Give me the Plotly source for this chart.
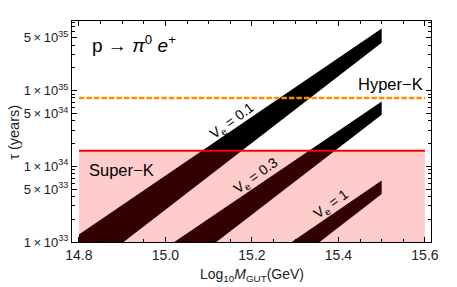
import plotly.graph_objects as go

# ---- data ----
M_ends = [14.8, 15.5]                     # log10 M_GUT at band ends
ve01_upper = [1.26e33, 6.6e35]
ve01_lower = [3.5e32, 4.3e35]
ve03_upper = [1.4e32, 7.2e34]
ve03_lower = [4.0e31, 4.8e34]
ve1_upper = [1.2e31, 6.5e33]
ve1_lower = [3.5e30, 4.3e33]
band_labels = ["V<sub>e</sub> = 0.1", "V<sub>e</sub> = 0.3", "V<sub>e</sub> = 1"]
label_pos_M = [15.155, 15.21, 15.385]
label_pos_logtau = [34.60, 33.87, 33.50]

x_span = [14.8, 15.6]
superk_limit = 1.6e34
hyperk_limit = 8.0e34
y_floor = 1e32

x_tickvals = [14.8, 15.0, 15.2, 15.4, 15.6]
x_ticktext = ["14.8", "15.0", "15.2", "15.4", "15.6"]
y_tickvals = [1e33, 5e33, 1e34, 5e34, 1e35, 5e35]
y_ticktext = ["1\u2009×\u200910<sup>33</sup>", "5\u2009×\u200910<sup>33</sup>",
              "1\u2009×\u200910<sup>34</sup>", "5\u2009×\u200910<sup>34</sup>",
              "1\u2009×\u200910<sup>35</sup>", "5\u2009×\u200910<sup>35</sup>"]

FONT = "Liberation Sans, Arial, sans-serif"

fig = go.Figure()

for up, lo in [(ve01_upper, ve01_lower), (ve03_upper, ve03_lower), (ve1_upper, ve1_lower)]:
    fig.add_trace(go.Scatter(
        x=M_ends + M_ends[::-1], y=up + lo[::-1],
        fill="toself", fillcolor="black", mode="lines",
        line=dict(width=0, color="black"), hoverinfo="skip", showlegend=False))

# Super-K excluded region (translucent red over the bands)
fig.add_trace(go.Scatter(
    x=[x_span[0], x_span[1], x_span[1], x_span[0]],
    y=[y_floor, y_floor, superk_limit, superk_limit],
    fill="toself", fillcolor="rgba(255,0,0,0.2)", mode="lines",
    line=dict(width=0), hoverinfo="skip", showlegend=False))

fig.add_trace(go.Scatter(x=x_span, y=[superk_limit] * 2, mode="lines",
                         line=dict(color="#FF0000", width=2), showlegend=False))
fig.add_trace(go.Scatter(x=x_span, y=[hyperk_limit] * 2, mode="lines",
                         line=dict(color="#FF8C00", width=2.5, dash="5.5px,2px"), showlegend=False))

annots = []
for t, mx, ly in zip(band_labels, label_pos_M, label_pos_logtau):
    annots.append(dict(x=mx, y=ly, xref="x", yref="y", text=t, showarrow=False,
                       xanchor="center", yanchor="middle",
                       textangle=-36, font=dict(size=14, color="black", family=FONT)))
annots += [
    dict(x=14.825, y=35.61, xref="x", yref="y", xanchor="left", yanchor="middle", showarrow=False,
         text="p → <i>π</i><sup>0</sup> <i>e</i><sup>+</sup>", font=dict(size=19, color="black", family=FONT)),
    dict(x=15.6, y=35.093, xref="x", yref="y", xanchor="right", yanchor="middle", showarrow=False,
         text="Hyper−K", font=dict(size=16.5, color="black", family=FONT)),
    dict(x=14.818, y=33.954, xref="x", yref="y", xanchor="left", yanchor="middle", showarrow=False,
         text="Super−K", font=dict(size=16.5, color="black", family=FONT)),
    dict(x=0.501, y=-0.149, xref="paper", yref="paper", xanchor="center", yanchor="middle", showarrow=False,
         text="Log<sub>10</sub><i>M</i><sub>GUT</sub>(GeV)", font=dict(size=14, color="#222", family=FONT)),
    dict(x=-0.162, y=0.498, xref="paper", yref="paper", xanchor="center", yanchor="middle",
         showarrow=False, textangle=-90,
         text="τ (years)", font=dict(size=14.5, color="#222", family=FONT)),
]

minor_x = [round(14.8 + 0.05 * i, 2) for i in range(17)]
minor_y = [float(m) * 10.0 ** e for e in range(33, 36) for m in range(2, 10)]

# page has an 8px body margin, so the figure is offset by (8, 8)
fig.update_layout(
    width=449, height=279,
    margin=dict(l=64, r=26, t=13, b=45),
    plot_bgcolor="white", paper_bgcolor="white",
    font=dict(family=FONT, color="#222"),
    annotations=annots,
    xaxis=dict(range=[14.784, 15.614], tickmode="array", tickvals=x_tickvals, ticktext=x_ticktext,
               ticks="inside", ticklen=5, tickcolor="black", showline=True, linecolor="black",
               linewidth=1.2, mirror="ticks", showgrid=False, zeroline=False,
               tickfont=dict(size=14, color="#222"),
               minor=dict(tickmode="array", tickvals=minor_x, ticks="inside", ticklen=3, tickcolor="black")),
    yaxis=dict(type="log", range=[33, 35.92], tickmode="array", tickvals=y_tickvals, ticktext=y_ticktext,
               ticks="inside", ticklen=5, tickcolor="black", showline=True, linecolor="black",
               linewidth=1.2, mirror="ticks", showgrid=False, zeroline=False,
               tickfont=dict(size=13, color="#222"),
               minor=dict(tickmode="array", tickvals=minor_y, ticks="inside", ticklen=3, tickcolor="black")),
)

fig.write_html("out.html")
